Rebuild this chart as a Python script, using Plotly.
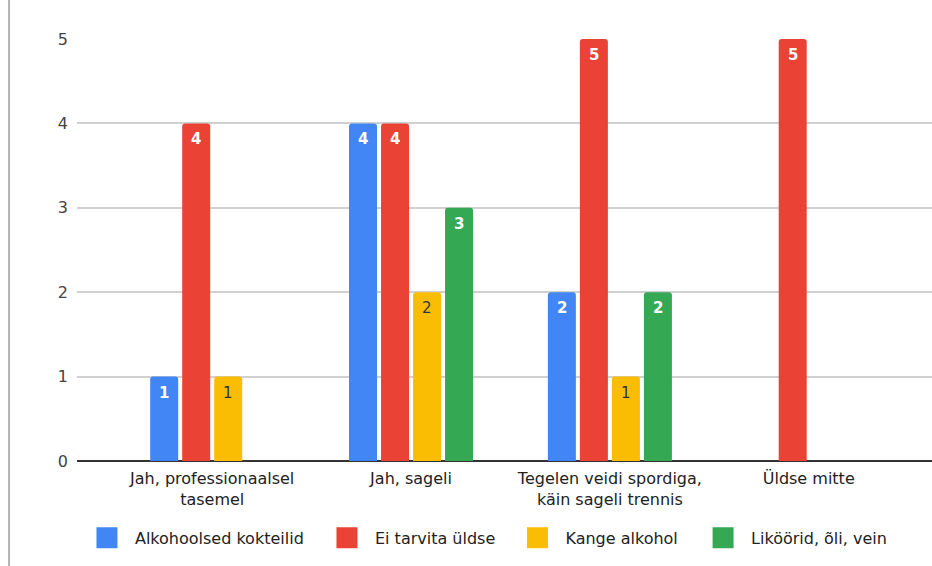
import plotly.graph_objects as go

# Survey answers per activity level
categories = [
    "Jah, professionaalsel<br>tasemel",
    "Jah, sageli",
    "Tegelen veidi spordiga,<br>käin sageli trennis",
    "Üldse mitte",
]
series_names = [
    "Alkohoolsed kokteilid",
    "Ei tarvita üldse",
    "Kange alkohol",
    "Liköörid, õli, vein",
]
kokteilid = [1, 4, 2, None]
ei_tarvita = [4, 4, 5, 5]
kange = [1, 2, 1, None]
likoorid = [None, 3, 2, None]
y_ticks = [0, 1, 2, 3, 4, 5]

values = [kokteilid, ei_tarvita, kange, likoorid]
colors = ["#4285F4", "#EA4335", "#FBBC04", "#34A853"]
label_colors = ["#ffffff", "#ffffff", "#333333", "#ffffff"]
label_bold = [True, True, False, True]

FONT = "DejaVu Sans"
W, H = 932, 566
M_L, M_R, M_T, M_B = 77, 0, 39, 105
X_RANGE = [-0.68, 3.62]
BARGAP, GROUPGAP = 0.356, 0.125
# left edge of each legend entry, in paper units
LEGEND_X = [0.0023, 0.2830, 0.5058, 0.7229]

fig = go.Figure()

for name, vals, col in zip(series_names, values, colors):
    fig.add_trace(go.Bar(
        name=name, x=categories, y=vals,
        marker=dict(color=col, line=dict(width=0), cornerradius=3),
        showlegend=False, hoverinfo="x+y+name",
    ))

# one legend per series so each entry sits at its own position
legend_ids = ["legend"] + [f"legend{k}" for k in range(2, len(series_names) + 1)]
for name, col, lid in zip(series_names, colors, legend_ids):
    fig.add_trace(go.Scatter(
        name=name, x=[None], y=[None], mode="markers",
        marker=dict(symbol="square", size=16, color=col,
                    line=dict(color=col, width=5)),
        showlegend=True, legend=lid,
    ))

# value labels just below the top of each bar
px_per_unit = (W - M_L - M_R) / (X_RANGE[1] - X_RANGE[0])
slot = (1 - BARGAP) * px_per_unit / len(values)
annotations = []
for i, vals in enumerate(values):
    shift = (i - (len(values) - 1) / 2) * slot
    for cat, v in zip(categories, vals):
        if v is None:
            continue
        txt = f"<b>{v}</b>" if label_bold[i] else str(v)
        annotations.append(dict(
            x=cat, y=v, xref="x", yref="y", text=txt, showarrow=False,
            xshift=shift, yshift=-16, yanchor="middle", xanchor="center",
            font=dict(family=FONT, size=15, color=label_colors[i]),
        ))

legend_layout = {}
for lid, lx in zip(legend_ids, LEGEND_X):
    legend_layout[lid] = dict(
        orientation="h", x=lx, xanchor="left", y=-0.182, yanchor="middle",
        font=dict(family=FONT, size=16, color="#222222"), itemwidth=46,
        itemclick=False, itemdoubleclick=False, bgcolor="rgba(0,0,0,0)",
    )

fig.update_layout(
    width=W, height=H,
    margin=dict(l=M_L, r=M_R, t=M_T, b=M_B, pad=0),
    paper_bgcolor="white", plot_bgcolor="white",
    barmode="group", bargap=BARGAP, bargroupgap=GROUPGAP,
    font=dict(family=FONT, size=16, color="#222222"),
    xaxis=dict(
        range=X_RANGE, showgrid=False, ticks="", showline=False,
        tickfont=dict(family=FONT, size=16, color="#222222"),
        zeroline=False, fixedrange=True, ticklabelstandoff=6,
    ),
    yaxis=dict(
        range=[0, 5], tickvals=y_ticks, showgrid=True,
        gridcolor="#d0d0d0", gridwidth=1.5, zeroline=True,
        zerolinecolor="#333333", zerolinewidth=1.5, ticks="",
        showline=False, ticklabelstandoff=8,
        tickfont=dict(family=FONT, size=16, color="#444444"),
    ),
    annotations=annotations,
    shapes=[dict(
        type="line", xref="paper", yref="paper",
        x0=-68 / (W - M_L - M_R), x1=-68 / (W - M_L - M_R),
        y0=-0.3, y1=1.2, line=dict(color="#9e9e9e", width=1.5),
    )],
    **legend_layout,
)

fig.write_html("out.html")
